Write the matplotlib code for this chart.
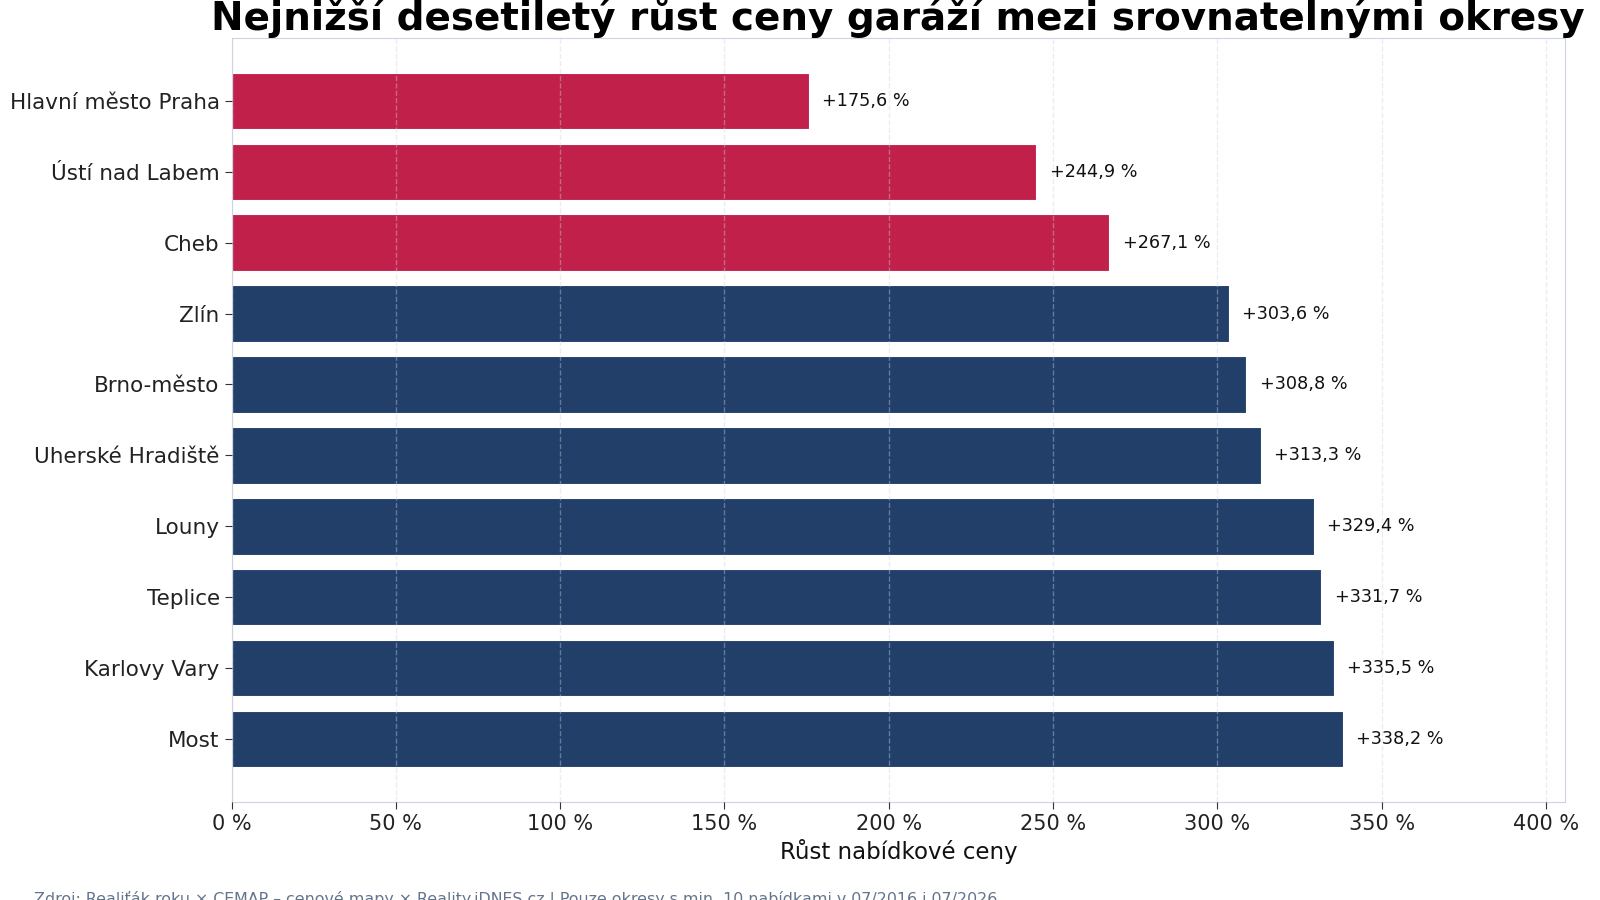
import matplotlib.pyplot as plt
import numpy as np

plt.rcParams['font.family'] = ['DejaVu Sans']

# data (top to bottom)
districts = ['Hlavní město Praha', 'Ústí nad Labem', 'Cheb', 'Zlín', 'Brno-město',
             'Uherské Hradiště', 'Louny', 'Teplice', 'Karlovy Vary', 'Most']
growth = [175.6, 244.9, 267.1, 303.6, 308.8, 313.3, 329.4, 331.7, 335.5, 338.2]
lowest_n = 3

red = '#c1204a'
navy = '#213f69'
colors = [red if i < lowest_n else navy for i in range(len(districts))]

fig = plt.figure(figsize=(16, 9), dpi=100)
ax = fig.add_axes([0.1447, 0.1089, 0.8335, 0.849])

y = np.arange(len(districts))
ax.barh(y, growth, height=0.8, color=colors, edgecolor='white', linewidth=0.8)
ax.invert_yaxis()
ax.set_yticks(y)
ax.set_yticklabels(districts, fontsize=15.5, color='#222222')

xmax = max(growth) * 1.2
ax.set_xlim(0, xmax)
ticks = np.arange(0, 401, 50)
ax.set_xticks(ticks)
ax.set_xticklabels([f'{t} %' for t in ticks], fontsize=15, color='#222222')
ax.set_xlabel('Růst nabídkové ceny', fontsize=16.5, color='#111111')

for yi, v in zip(y, growth):
    ax.text(v + max(growth) * 0.012, yi, f'+{v:.1f} %'.replace('.', ','),
            va='center', ha='left', fontsize=12.7, color='#111111')

ax.grid(axis='x', linestyle='--', color='#cbd5e1', alpha=0.4, linewidth=1)
ax.set_axisbelow(False)
for s in ax.spines.values():
    s.set_color('#cbd5e1')
ax.tick_params(axis='both', length=5, color='#333333')

ax.set_title('Nejnižší desetiletý růst ceny garáží mezi srovnatelnými okresy',
             fontsize=28, fontweight='bold', pad=6)

fig.text(0.021, 0.0, 'Zdroj: Realiťák roku × CEMAP – cenové mapy × Reality.iDNES.cz | '
         'Pouze okresy s min. 10 nabídkami v 07/2016 i 07/2026',
         fontsize=11.4, color='#64748b', ha='left', va='center')

fig.savefig('out.png', dpi=100)
